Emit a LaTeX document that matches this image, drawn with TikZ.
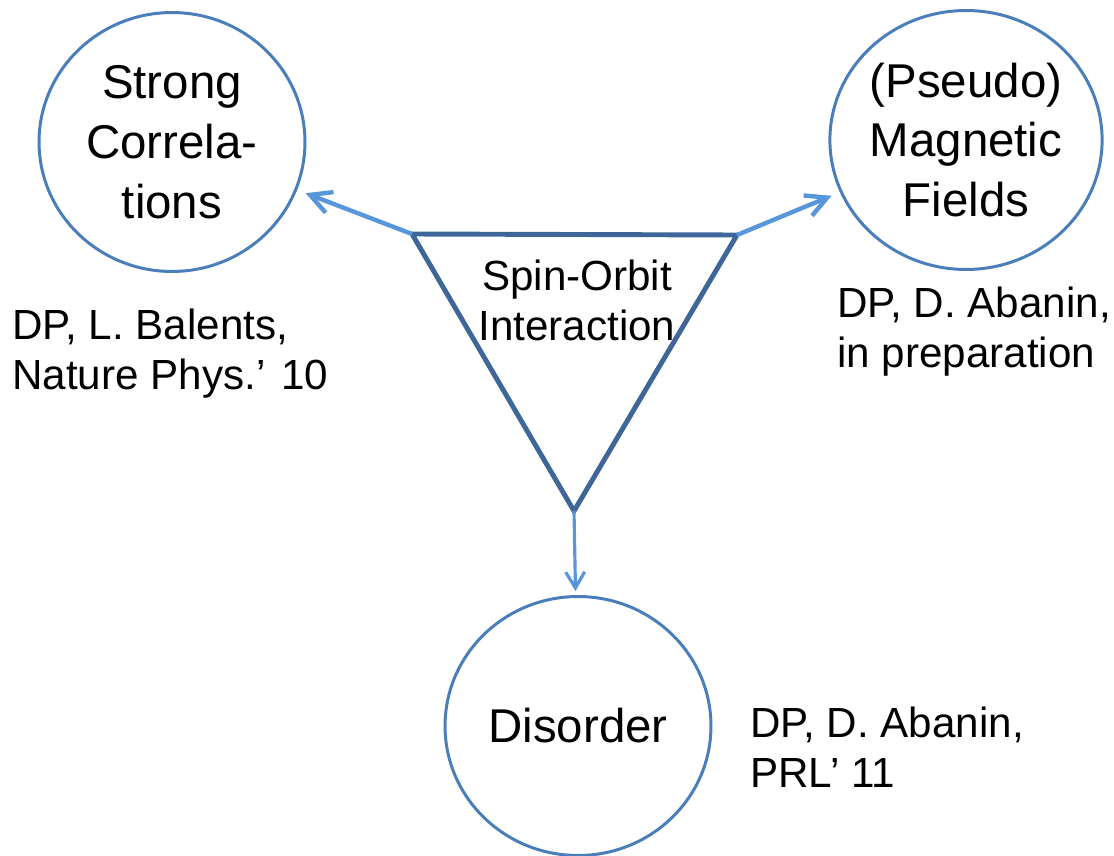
\documentclass[tikz,border=0pt]{standalone}
\usepackage{fontspec}
\setmainfont{Liberation Sans}
\usetikzlibrary{arrows.meta, shapes.geometric}
\definecolor{ringblue}{RGB}{74,126,187}
\definecolor{triblue}{RGB}{62,102,152}
\definecolor{arrblue}{RGB}{88,150,220}
\tikzset{tp/.style = {ellipse, draw=ringblue, line width=1.7pt, minimum width=5.32cm, minimum height=5.18cm, inner sep=0pt, align=center, font=\fontsize{27}{34}\selectfont},
           rf/.style = {inner sep=0pt, align=left, font=\fontsize{24}{28.5}\selectfont}}

\begin{document}
\begin{tikzpicture}[x=0.02cm, y=-0.02cm, >={Straight Barb[length=0.42cm, width=0.44cm]}]
    \useasboundingbox (0,0) rectangle (1114,855);
    \node[tp] (sc) at (172,142) {Strong\\Correla-\\tions};
    \node[tp] (mf) at (966,140) {(Pseudo)\\Magnetic\\Fields};
    \node[tp] (do) at (578,726) {Disorder};
    \coordinate (a) at (412,234); \coordinate (b) at (737,235); \coordinate (c) at (574,511);
    \draw[triblue, line width=2.8pt, line join=miter] (a) -- (b) -- (c) -- cycle;
    \node[rf, align=center] (so) at (577,300) {Spin-Orbit\\Interaction};
    \node[rf, anchor=west] (r1) at (12,354) {DP, L. Balents,\\Nature Phys.' 10};
    \node[rf, anchor=west] (r2) at (837,332) {DP, D. Abanin,\\in preparation};
    \node[rf, anchor=west] (r3) at (750,747) {DP, D. Abanin,\\PRL' 11};
    \draw[->, arrblue, line width=2.5pt, shorten >=0.18cm] (a) to (sc);
    \draw[->, arrblue, line width=2.5pt, shorten >=0.18cm] (b) to (mf);
    \draw[->, arrblue, line width=1.8pt, shorten >=0.08cm, >={Straight Barb[length=0.32cm, width=0.38cm]}] (c) to (do);
\end{tikzpicture}
\end{document}
